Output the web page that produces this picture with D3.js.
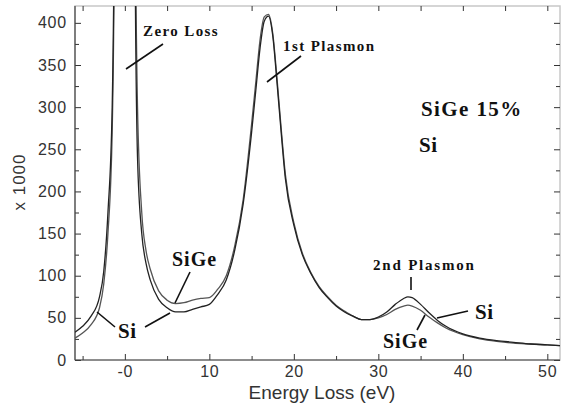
<!DOCTYPE html>
<html>
<head>
<meta charset="utf-8">
<script src="https://cdn.jsdelivr.net/npm/d3@7"></script>
<style>
  body { margin: 0; background: #fff; }
  .tick text { font-family: "Liberation Sans", Arial, sans-serif; font-size: 16px; fill: #333; letter-spacing: 0.8px; }
  .lbl { font-family: "Liberation Serif", "Times New Roman", serif; font-weight: bold; fill: #111; }
</style>
</head>
<body>
<div id="chart"></div>
<script>
var margin = {top: 6, right: 4, bottom: 45, left: 75};
var W = 564, H = 405;

// energy loss (eV)
var energy = [-5.9, -5, -4, -3, -2.5, -2, -1.5, -1.2, -0.8, 0, 0.8, 1.2, 1.5, 2, 2.5, 3, 4, 5, 6, 7, 8, 9, 10,
  11, 12, 13, 14, 15, 15.5, 16, 16.5, 17, 17.5, 18, 18.5, 19, 20, 21, 22, 23, 24, 25, 26, 27, 28, 29, 30,
  31, 32, 33, 33.5, 34, 35, 36, 37, 38, 40, 42, 44, 46, 48, 50, 51.5];
// counts x 1000
var si = [33, 40, 52, 75, 105, 175, 300, 600, 2500, 4000, 2500, 500, 240, 150, 115, 95, 72, 62, 57, 57, 60, 63, 66,
  78, 95, 130, 185, 270, 320, 370, 402, 408, 385, 330, 270, 215, 160, 125, 103, 86, 74, 64, 57, 52, 48, 48, 51,
  57, 66, 73, 75, 74, 66, 56, 47, 40, 31, 26, 23, 21, 19, 18, 17];
var sige = [26, 32, 42, 62, 90, 150, 270, 550, 2500, 4000, 2500, 600, 300, 175, 130, 108, 82, 71, 67, 68, 71, 73, 74,
  84, 100, 135, 190, 280, 330, 380, 407, 410, 388, 335, 275, 220, 163, 127, 104, 87, 75, 65, 58, 52, 48, 48, 50,
  54, 60, 64, 65, 64, 59, 51, 44, 38, 30, 25, 22, 20, 19, 18, 17];

var xMajor = [0, 10, 20, 30, 40, 50];
var xMinor = [-5, 5, 15, 25, 35, 45];
var yMajor = [0, 50, 100, 150, 200, 250, 300, 350, 400];
var yMinor = [25, 75, 125, 175, 225, 275, 325, 375];

var svg = d3.select("#chart").append("svg")
  .attr("width", W).attr("height", H);

var x = d3.scaleLinear().domain([-5.9, 51.5]).range([margin.left, W - margin.right]);
var y = d3.scaleLinear().domain([0, 420]).range([H - margin.bottom, margin.top]);

svg.append("clipPath").attr("id", "clip")
  .append("rect")
  .attr("x", margin.left).attr("y", margin.top)
  .attr("width", W - margin.left - margin.right)
  .attr("height", H - margin.top - margin.bottom);

// frame
svg.append("rect")
  .attr("x", margin.left).attr("y", margin.top)
  .attr("width", W - margin.left - margin.right)
  .attr("height", H - margin.top - margin.bottom)
  .attr("fill", "none").attr("stroke", "#c8c8c8").attr("stroke-width", 1.5);

function styleAxis(g) {
  g.select(".domain").remove();
  g.selectAll(".tick line").attr("stroke", "#333");
}

// bottom
svg.append("g").attr("transform", "translate(0," + y(0) + ")")
  .call(d3.axisBottom(x).tickValues(xMajor).tickSizeInner(-6).tickSizeOuter(0).tickPadding(6)
    .tickFormat(function(d) { return d === 0 ? "-0" : d; }))
  .call(styleAxis);
svg.append("g").attr("transform", "translate(0," + y(0) + ")")
  .call(d3.axisBottom(x).tickValues(xMinor).tickSizeInner(-4).tickSizeOuter(0).tickFormat(""))
  .call(styleAxis);
// top
svg.append("g").attr("transform", "translate(0," + y(420) + ")")
  .call(d3.axisTop(x).tickValues(xMajor.concat(xMinor)).tickSizeInner(-5).tickSizeOuter(0).tickFormat(""))
  .call(styleAxis);
// left
svg.append("g").attr("transform", "translate(" + x(-5.9) + ",0)")
  .call(d3.axisLeft(y).tickValues(yMajor).tickSizeInner(-6).tickSizeOuter(0).tickPadding(8))
  .call(styleAxis);
svg.append("g").attr("transform", "translate(" + x(-5.9) + ",0)")
  .call(d3.axisLeft(y).tickValues(yMinor).tickSizeInner(-4).tickSizeOuter(0).tickFormat(""))
  .call(styleAxis);
// right
svg.append("g").attr("transform", "translate(" + x(51.5) + ",0)")
  .call(d3.axisRight(y).tickValues(yMajor).tickSizeInner(-6).tickSizeOuter(0).tickFormat(""))
  .call(styleAxis);
svg.append("g").attr("transform", "translate(" + x(51.5) + ",0)")
  .call(d3.axisRight(y).tickValues(yMinor).tickSizeInner(-4).tickSizeOuter(0).tickFormat(""))
  .call(styleAxis);

// axis lines left and bottom darker
svg.append("line").attr("x1", x(-5.9)).attr("x2", x(-5.9)).attr("y1", y(0)).attr("y2", y(420))
  .attr("stroke", "#444").attr("stroke-width", 1.2);
svg.append("line").attr("x1", x(-5.9)).attr("x2", x(51.5)).attr("y1", y(0)).attr("y2", y(0))
  .attr("stroke", "#444").attr("stroke-width", 1.2);

// curves
var line = d3.line().curve(d3.curveMonotoneX)
  .x(function(d, i) { return x(energy[i]); })
  .y(function(d) { return y(d); });

var plot = svg.append("g").attr("clip-path", "url(#clip)");
plot.append("path").datum(sige).attr("d", line)
  .attr("fill", "none").attr("stroke", "#555").attr("stroke-width", 1.3);
plot.append("path").datum(si).attr("d", line)
  .attr("fill", "none").attr("stroke", "#222").attr("stroke-width", 1.3);

// axis titles
svg.append("text")
  .attr("x", 322).attr("y", 399)
  .attr("text-anchor", "middle")
  .style("font-family", "'Liberation Sans', Arial, sans-serif")
  .style("font-size", "19px").style("fill", "#333")
  .text("Energy Loss (eV)");
svg.append("text")
  .attr("transform", "translate(25,182) rotate(-90)")
  .attr("text-anchor", "middle")
  .style("font-family", "'Liberation Sans', Arial, sans-serif")
  .style("font-size", "17px").style("fill", "#333").style("letter-spacing", "1px")
  .text("x 1000");

// annotations
function label(t, px, py, size, sp) {
  svg.append("text").attr("class", "lbl")
    .attr("x", px).attr("y", py).style("font-size", size + "px")
    .style("letter-spacing", (sp || 0) + "px").text(t);
}
function pointer(x1, y1, x2, y2) {
  svg.append("line").attr("x1", x1).attr("y1", y1).attr("x2", x2).attr("y2", y2)
    .attr("stroke", "#111").attr("stroke-width", 1.6);
}

label("Zero Loss", 143, 36, 15, 1.4);
pointer(163, 44, 126, 69);
label("1st Plasmon", 283, 51, 15, 1.4);
pointer(301, 56, 267, 82);
label("SiGe 15%", 421, 116, 21, 1.4);
label("Si", 419, 152, 21, 0.5);
label("SiGe", 172, 266, 20, 1);
pointer(190, 272, 175, 303);
label("Si", 118, 338, 21, 0.5);
pointer(115, 327, 97, 312);
pointer(145, 327, 170, 313);
label("2nd Plasmon", 373, 270, 15, 1.8);
pointer(411, 277, 411, 290);
label("Si", 475, 319, 21, 0.5);
pointer(468, 311, 437, 318);
label("SiGe", 383, 348, 20, 1);
pointer(417, 330, 425, 315);
</script>
</body>
</html>
